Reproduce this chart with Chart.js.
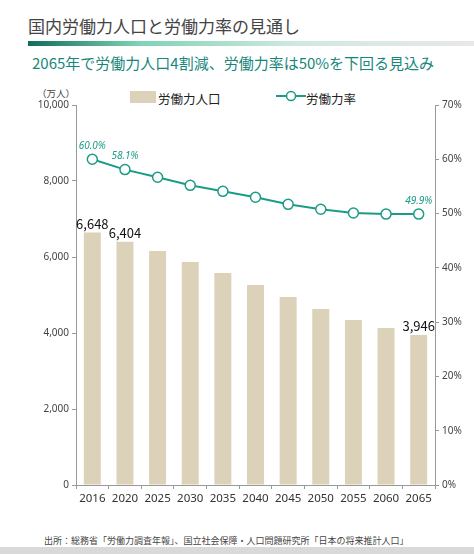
<!DOCTYPE html>
<html><head><meta charset="utf-8">
<script src="https://cdn.jsdelivr.net/npm/chart.js@4"></script>
<style>
body{margin:0;width:474px;height:554px;background:#fff;font-family:"Noto Sans CJK JP",sans-serif;position:relative;overflow:hidden}
.abs{position:absolute;white-space:nowrap}
</style></head><body>
<div class="abs" style="left:28px;top:13px;font-size:17px;color:#444">国内労働力人口と労働力率の見通し</div>
<div class="abs" style="left:28px;top:41px;width:446px;height:5px;background:linear-gradient(90deg,#0d6e5a,#7fd3b4 25%,#cfe9df 60%,#e8e8e8)"></div>
<div class="abs" style="left:32px;top:52px;font-size:15px;color:#17877c">2065年で労働力人口4割減、労働力率は50%を下回る見込み</div>
<div class="abs" style="left:37px;top:86px;font-size:9.5px;color:#444">（万人）</div>
<div class="abs" style="left:130px;top:91px;width:26px;height:12px;background:#dcd1b9"></div>
<div class="abs" style="left:158px;top:89px;font-size:12.5px;color:#222">労働力人口</div>
<svg class="abs" style="left:276px;top:89px" width="30" height="14"><line x1="0" y1="7" x2="30" y2="7" stroke="#1c9c86" stroke-width="2"/><circle cx="15" cy="7" r="4.5" fill="#fff" stroke="#1c9c86" stroke-width="1.5"/></svg>
<div class="abs" style="left:306px;top:89px;font-size:12.5px;color:#222">労働力率</div>
<div class="abs" style="left:44px;top:534px;font-size:9px;color:#444">出所：総務省「労働力調査年報」、国立社会保障・人口問題研究所「日本の将来推計人口」</div>
<div class="abs" style="left:0;top:547px;width:474px;height:7px;background:#d9d9d9"></div>
<div class="abs" style="left:0;top:90px;width:474px;height:425px"><canvas id="c"></canvas></div>
<script>
const years = ['2016','2020','2025','2030','2035','2040','2045','2050','2055','2060','2065'];
const labour = [6648, 6404, 6158, 5868, 5579, 5263, 4947, 4632, 4342, 4132, 3946];
const rate = [60.0, 58.1, 56.7, 55.2, 54.1, 53.0, 51.7, 50.8, 50.1, 49.9, 49.9];
const labourLabelIdx = [0, 1, 10];
const rateLabelIdx = [0, 1, 10];

const labelPlugin = {
  id: 'labels',
  afterDatasetsDraw(chart) {
    const ctx = chart.ctx;
    ctx.save();
    ctx.textAlign = 'center';
    ctx.textBaseline = 'bottom';
    const bars = chart.getDatasetMeta(1).data;
    ctx.font = '13px "Noto Sans CJK JP"';
    ctx.fillStyle = '#111';
    labourLabelIdx.forEach(i => ctx.fillText(labour[i].toLocaleString('en-US'), bars[i].x, bars[i].y - 2));
    const pts = chart.getDatasetMeta(0).data;
    ctx.font = 'italic 10px "Noto Sans", sans-serif';
    ctx.fillStyle = '#1c9c86';
    rateLabelIdx.forEach(i => ctx.fillText(rate[i].toFixed(1) + '%', pts[i].x, pts[i].y - 8));
    ctx.restore();
  }
};

new Chart(document.getElementById('c'), {
  data: {
    labels: years,
    datasets: [
      { type: 'line', data: rate, yAxisID: 'y1', borderColor: '#1c9c86', borderWidth: 2,
        pointRadius: 5, pointBackgroundColor: '#fff', pointBorderColor: '#1c9c86', pointBorderWidth: 1.5, order: 0 },
      { type: 'bar', data: labour, yAxisID: 'y', backgroundColor: '#dcd1b9', categoryPercentage: 0.52, barPercentage: 1, order: 1 }
    ]
  },
  options: {
    responsive: true, maintainAspectRatio: false, animation: false,
    layout: { padding: { top: 15, left: 0, right: 0, bottom: 0 } },
    plugins: { legend: { display: false }, tooltip: { enabled: false } },
    scales: {
      x: {
        grid: { drawOnChartArea: false, tickLength: 4, color: '#999' },
        border: { color: '#999' },
        ticks: { color: '#333', font: { size: 11.5, family: 'Noto Sans' }, padding: 3 },
        afterFit: s => { s.height = 30; }
      },
      y: {
        min: 0, max: 10000,
        ticks: { stepSize: 2000, color: '#444', font: { size: 10, family: 'Noto Sans' }, callback: v => v.toLocaleString('en-US') },
        grid: { drawOnChartArea: false, tickLength: 4, color: '#999' },
        border: { color: '#999' },
        afterFit: s => { s.width = 76; }
      },
      y1: {
        position: 'right', min: 0, max: 70,
        ticks: { stepSize: 10, color: '#444', font: { size: 10, family: 'Noto Sans' }, callback: v => v + '%' },
        grid: { drawOnChartArea: false, tickLength: 4, color: '#999' },
        border: { color: '#999' },
        afterFit: s => { s.width = 39; }
      }
    }
  },
  plugins: [labelPlugin]
});
</script>
</body></html>
